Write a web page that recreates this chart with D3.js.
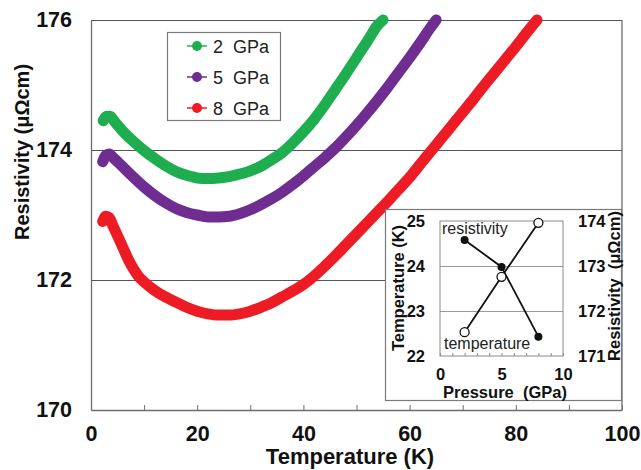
<!DOCTYPE html>
<html><head><meta charset="utf-8">
<script src="https://cdn.jsdelivr.net/npm/d3@7"></script>
<style>body{margin:0;background:#fff}svg{display:block;font-family:"Liberation Sans",Arial,sans-serif}</style>
</head><body><svg id="c" width="641" height="470"></svg>
<script>
// ---- data ----
const seriesNames = ["2  GPa", "5  GPa", "8  GPa"];
const seriesColors = ["#1fae4f", "#6f2c91", "#ed1c24"];
const tempGreen = [2.3,3.0,3.6,4.5,6,8,10,12,14,16,18,20,22,24,26,28,30,32,34,36,38,40,42,44,46,48,50,52,54,55];
const rhoGreen  = [174.45,174.52,174.52,174.43,174.29,174.13,173.99,173.87,173.76,173.67,173.61,173.57,173.56,173.57,173.59,173.63,173.68,173.75,173.85,173.96,174.11,174.28,174.47,174.69,174.93,175.17,175.42,175.67,175.92,176.0];
const tempPurple = [2.2,2.8,3.4,4.2,5,6,8,10,12,14,16,18,20,22,24,26,28,30,32,34,36,38,40,42,44,46,48,50,52,54,56,58,60,62,64,65];
const rhoPurple  = [173.82,173.92,173.94,173.88,173.82,173.74,173.58,173.43,173.3,173.19,173.1,173.04,173.0,172.97,172.97,172.98,173.02,173.08,173.16,173.25,173.35,173.47,173.6,173.74,173.88,174.03,174.2,174.38,174.57,174.77,174.98,175.2,175.42,175.65,175.89,176.0];
const tempRed = [2.2,2.8,3.4,4.2,5,6,7,8,9,10,12,14,16,18,20,22,24,26,28,30,32,34,36,38,40,42,44,46,48,50,52,54,56,58,60,62,64,66,68,70,72,74,76,78,80,82,84];
const rhoRed  = [172.9,172.98,172.96,172.82,172.68,172.5,172.32,172.17,172.05,171.97,171.84,171.74,171.66,171.58,171.52,171.48,171.46,171.46,171.48,171.52,171.58,171.65,171.74,171.83,171.93,172.06,172.21,172.37,172.54,172.71,172.88,173.05,173.22,173.4,173.58,173.78,173.98,174.18,174.38,174.58,174.78,174.99,175.19,175.39,175.59,175.8,176.0];
const xTicks = [0,20,40,60,80,100];
const xMinorTicks = [0,10,20,30,40,50,60,70,80,90,100];
const yTicks = [170,172,174,176];
// inset
const pressure = [2,5,8];
const insetRho = [173.58,172.98,171.43];
const insetTemp = [22.53,23.76,24.96];
const insetTTicks = [22,23,24,25];
const insetRTicks = [171,172,173,174];
const insetPTicks = [0,5,10];

const svg = d3.select("#c");
const x = d3.scaleLinear().domain([0,100]).range([91,622]);
const y = d3.scaleLinear().domain([170,176]).range([410,20]);
const gray = "#6e6e6e";

// gridlines
svg.append("g").attr("transform","translate(91,0)")
  .call(d3.axisLeft(y).tickValues([172,174,176]).tickSize(-531).tickFormat(""))
  .call(g=>g.select(".domain").remove())
  .call(g=>g.selectAll("line").attr("stroke","#555").attr("stroke-width",1));
// right border
svg.append("line").attr("x1",622).attr("x2",622).attr("y1",20).attr("y2",410).attr("stroke",gray).attr("stroke-width",1.3);
// y labels
svg.append("g").attr("transform","translate(91,0)")
  .call(d3.axisLeft(y).tickValues(yTicks).tickSize(0).tickPadding(19).tickFormat(d3.format("d")))
  .call(g=>g.select(".domain").attr("stroke",gray).attr("stroke-width",1.3))
  .call(g=>g.selectAll("text").attr("font-size",21.5).attr("font-weight","bold").attr("fill","#111").attr("font-family","Liberation Sans, Arial"));
// x axis
svg.append("g").attr("transform","translate(0,410)")
  .call(d3.axisBottom(x).tickValues(xMinorTicks).tickSizeInner(-5).tickSizeOuter(0).tickFormat(""))
  .call(g=>g.select(".domain").attr("stroke",gray).attr("stroke-width",1.3))
  .call(g=>g.selectAll("line").attr("stroke",gray));
svg.append("g").attr("transform","translate(0,410)")
  .call(d3.axisBottom(x).tickValues(xTicks).tickSize(0).tickPadding(16).tickFormat(d3.format("d")))
  .call(g=>g.select(".domain").remove())
  .call(g=>g.selectAll("text").attr("font-size",21.5).attr("font-weight","bold").attr("fill","#111").attr("font-family","Liberation Sans, Arial"));

// titles
svg.append("text").attr("x",350).attr("y",464).attr("text-anchor","middle")
  .attr("font-size",22).attr("font-weight","bold").attr("fill","#111").text("Temperature (K)");
svg.append("text").attr("transform","translate(29,152) rotate(-90)").attr("text-anchor","middle")
  .attr("font-size",20).attr("font-weight","bold").attr("fill","#111").text("Resistivity (μΩcm)");

// curves
const series = [
  {T:tempGreen,R:rhoGreen,c:seriesColors[0]},
  {T:tempPurple,R:rhoPurple,c:seriesColors[1]},
  {T:tempRed,R:rhoRed,c:seriesColors[2]}
];
const line = d3.line().x(d=>x(d[0])).y(d=>y(d[1])).curve(d3.curveMonotoneX);
series.forEach(s=>{
  const pts = s.T.map((t,i)=>[t,s.R[i]]);
  svg.append("path").datum(pts).attr("d",line).attr("fill","none").attr("stroke",s.c)
    .attr("stroke-width",11).attr("stroke-linecap","round").attr("stroke-linejoin","round");
});

// legend
const lg = svg.append("g");
lg.append("rect").attr("x",167.5).attr("y",32.5).attr("width",113).attr("height",88)
  .attr("fill","#fff").attr("stroke","#7a7a7a").attr("stroke-width",1.2);
seriesNames.forEach((n,i)=>{
  const cy = 46 + i*31;
  lg.append("line").attr("x1",187).attr("x2",207).attr("y1",cy).attr("y2",cy).attr("stroke",seriesColors[i]).attr("stroke-width",1.5);
  lg.append("circle").attr("cx",197).attr("cy",cy).attr("r",5).attr("fill",seriesColors[i]);
  lg.append("text").attr("x",213).attr("y",cy+6.5).attr("font-size",18).attr("fill","#222").style("white-space","pre").text(n);
});

// ---- inset ----
const ins = svg.append("g");
ins.append("rect").attr("x",385.5).attr("y",209.5).attr("width",236).attr("height",191)
  .attr("fill","#fff").attr("stroke","#7a7a7a").attr("stroke-width",1.2);
const px = d3.scaleLinear().domain([0,10]).range([440,563]);
const pt = d3.scaleLinear().domain([22,25]).range([356,221]);
const pr = d3.scaleLinear().domain([171,174]).range([356,221]);
// grid
ins.append("g").attr("transform","translate(440,0)")
  .call(d3.axisLeft(pt).tickValues([23,24]).tickSize(-123).tickFormat(""))
  .call(g=>g.select(".domain").remove())
  .call(g=>g.selectAll("line").attr("stroke","#9a9a9a"));
ins.append("rect").attr("x",440).attr("y",221).attr("width",123).attr("height",135)
  .attr("fill","none").attr("stroke","#8a8a8a").attr("stroke-width",1);
ins.append("g").attr("transform","translate(0,356)")
  .call(d3.axisBottom(px).tickValues(d3.range(0,11)).tickSizeInner(-3).tickSizeOuter(0).tickFormat(""))
  .call(g=>g.select(".domain").remove())
  .call(g=>g.selectAll("line").attr("stroke","#8a8a8a"));
const bold16 = g=>g.selectAll("text").attr("font-size",16.5).attr("font-weight","bold").attr("fill","#111").attr("font-family","Liberation Sans, Arial");
ins.append("g").attr("transform","translate(440,0)")
  .call(d3.axisLeft(pt).tickValues(insetTTicks).tickSize(0).tickPadding(15).tickFormat(d3.format("d")))
  .call(g=>g.select(".domain").remove()).call(bold16);
ins.append("g").attr("transform","translate(563,0)")
  .call(d3.axisRight(pr).tickValues(insetRTicks).tickSize(0).tickPadding(15).tickFormat(d3.format("d")))
  .call(g=>g.select(".domain").remove()).call(bold16);
ins.append("g").attr("transform","translate(0,356)")
  .call(d3.axisBottom(px).tickValues(insetPTicks).tickSize(0).tickPadding(12).tickFormat(d3.format("d")))
  .call(g=>g.select(".domain").remove()).call(bold16);
ins.append("text").attr("x",505).attr("y",398).attr("text-anchor","middle").attr("font-size",16.5).attr("font-weight","bold")
  .attr("fill","#111").style("white-space","pre").text("Pressure  (GPa)");
ins.append("text").attr("transform","translate(404,288) rotate(-90)").attr("text-anchor","middle").attr("font-size",16.5).attr("font-weight","bold")
  .attr("fill","#111").text("Temperature (K)");
ins.append("text").attr("transform","translate(620,286) rotate(-90)").attr("text-anchor","middle").attr("font-size",16.5).attr("font-weight","bold")
  .attr("fill","#111").style("white-space","pre").text("Resistivity  (μΩcm)");
ins.append("text").attr("x",442).attr("y",234).attr("font-size",16).attr("fill","#222").text("resistivity");
ins.append("text").attr("x",444).attr("y",349).attr("font-size",16).attr("fill","#222").text("temperature");
// lines and points
const rhoPts = pressure.map((p,i)=>[p,insetRho[i]]);
const tPts = pressure.map((p,i)=>[p,insetTemp[i]]);
ins.append("path").datum(rhoPts).attr("d",d3.line().x(d=>px(d[0])).y(d=>pr(d[1]))).attr("fill","none").attr("stroke","#111").attr("stroke-width",1.8);
ins.append("path").datum(tPts).attr("d",d3.line().x(d=>px(d[0])).y(d=>pt(d[1]))).attr("fill","none").attr("stroke","#111").attr("stroke-width",1.8);
ins.selectAll("circle.r").data(rhoPts).join("circle").attr("class","r").attr("cx",d=>px(d[0])).attr("cy",d=>pr(d[1])).attr("r",4).attr("fill","#111");
ins.selectAll("circle.t").data(tPts).join("circle").attr("class","t").attr("cx",d=>px(d[0])).attr("cy",d=>pt(d[1])).attr("r",4.5).attr("fill","#fff").attr("stroke","#111").attr("stroke-width",1.3);
</script></body></html>
